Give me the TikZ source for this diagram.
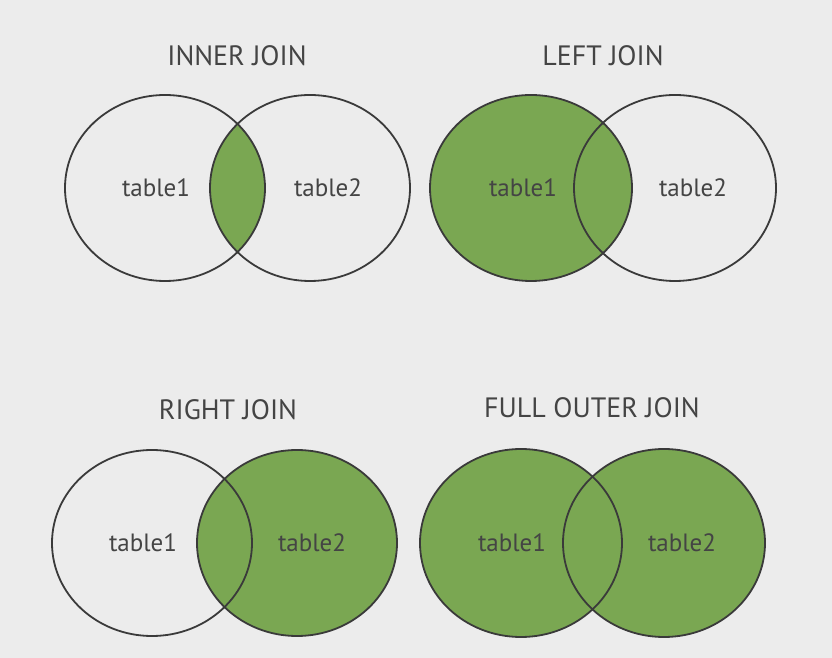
\documentclass[tikz,border=0pt]{standalone}
\usepackage{fontspec}
\setmainfont{PT Sans}
\usetikzlibrary{positioning}
\definecolor{bggray}{HTML}{ECECEC}
\definecolor{joingreen}{HTML}{7AA752}
\definecolor{linegray}{HTML}{3A3A3A}
\definecolor{textgray}{HTML}{444444}
\begin{document}
\begin{tikzpicture}[x=1pt, y=1pt, every node/.style={text=textgray}]
  % styles for the set outlines and the texts
  \tikzset{setline/.style={draw=linegray, line width=1.8pt},
    setfill/.style={fill=joingreen},
    title/.style={font=\fontsize{28}{32}\selectfont},
    tablelbl/.style={font=\fontsize{25}{30}\selectfont}}
  \fill[bggray] (0,0) rectangle (832,658);
  \useasboundingbox (0,0) rectangle (832,658);

  % centres of the circles
  \coordinate (ia) at (165,470); \coordinate (ib) at (310,470);
  \coordinate (la) at (531,470); \coordinate (lb) at (675,470);
  \coordinate (ra) at (152,115); \coordinate (rb) at (297,115);
  \coordinate (fa) at (521,115); \coordinate (fb) at (664,115);

  % inner join: only the overlap is filled
  \begin{scope}
    \clip (ia) ellipse [x radius=100, y radius=93];
    \fill[setfill] (ib) ellipse [x radius=100, y radius=93];
  \end{scope}
  \draw[setline] (ia) ellipse [x radius=100, y radius=93];
  \draw[setline] (ib) ellipse [x radius=100, y radius=93];
  \node[title] (innertitle) at (237,602) {INNER JOIN};
  \node[tablelbl] (inner1) at (156,470) {table1};
  \node[tablelbl] (inner2) at (328,470) {table2};

  % left join
  \fill[setfill] (la) ellipse [x radius=101, y radius=93];
  \draw[setline] (la) ellipse [x radius=101, y radius=93];
  \draw[setline] (lb) ellipse [x radius=101, y radius=93];
  \node[title] (lefttitle) at (603,602) {LEFT JOIN};
  \node[tablelbl] (left1) at (523,470) {table1};
  \node[tablelbl] (left2) at (693,470) {table2};

  % right join
  \fill[setfill] (rb) ellipse [x radius=100, y radius=93];
  \draw[setline] (ra) ellipse [x radius=100, y radius=93];
  \draw[setline] (rb) ellipse [x radius=100, y radius=93];
  \node[title] (righttitle) at (228,248) {RIGHT JOIN};
  \node[tablelbl] (right1) at (143,115) {table1};
  \node[tablelbl] (right2) at (312,115) {table2};

  % full outer join: both sets filled
  \fill[setfill] (fa) ellipse [x radius=101, y radius=94];
  \fill[setfill] (fb) ellipse [x radius=101, y radius=94];
  \draw[setline] (fa) ellipse [x radius=101, y radius=94];
  \draw[setline] (fb) ellipse [x radius=101, y radius=94];
  \node[title] (fulltitle) at (592,250) {FULL OUTER JOIN};
  \node[tablelbl] (full1) at (512,115) {table1};
  \node[tablelbl] (full2) at (682,115) {table2};
\end{tikzpicture}
\end{document}
